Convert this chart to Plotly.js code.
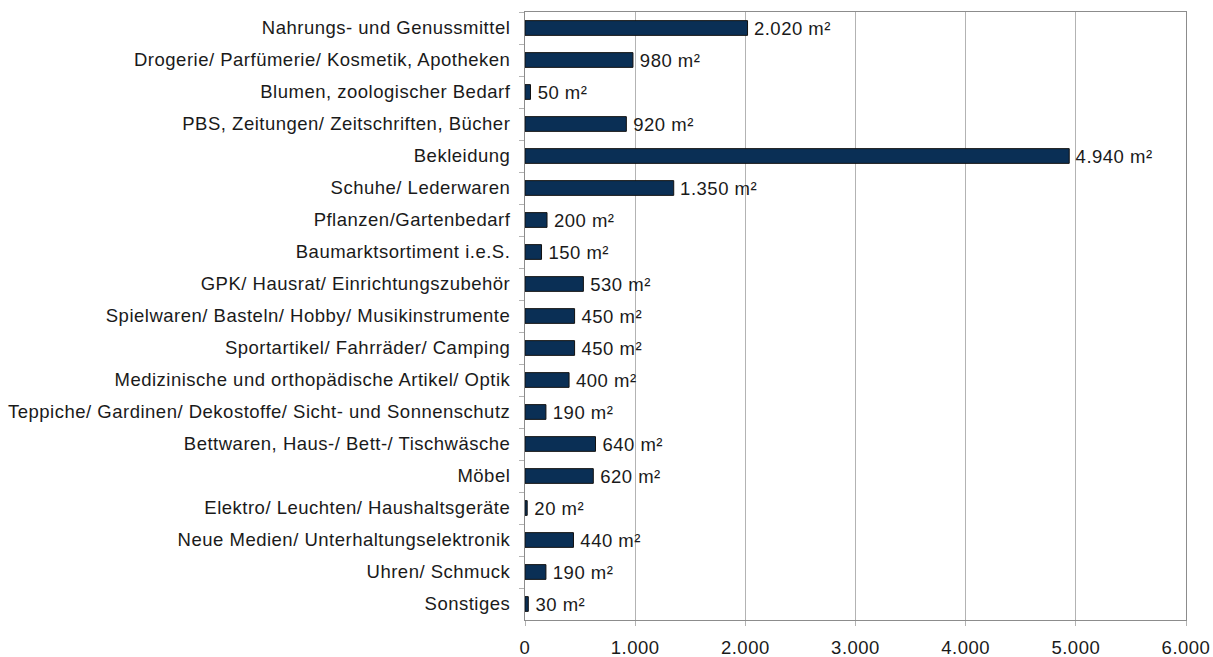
<!DOCTYPE html>
<html>
<head>
<meta charset="utf-8">
<script src="https://cdn.plot.ly/plotly-3.0.1.min.js"></script>
<style>html,body{margin:0;padding:0;background:#fff;}#chart{width:1213px;height:657px;}
#chart svg text{letter-spacing:0.5px;}</style>
</head>
<body>
<div id="chart"></div>
<script>
const categories = [
  "Nahrungs- und Genussmittel",
  "Drogerie/ Parfümerie/ Kosmetik, Apotheken",
  "Blumen, zoologischer Bedarf",
  "PBS, Zeitungen/ Zeitschriften, Bücher",
  "Bekleidung",
  "Schuhe/ Lederwaren",
  "Pflanzen/Gartenbedarf",
  "Baumarktsortiment i.e.S.",
  "GPK/ Hausrat/ Einrichtungszubehör",
  "Spielwaren/ Basteln/ Hobby/ Musikinstrumente",
  "Sportartikel/ Fahrräder/ Camping",
  "Medizinische und orthopädische Artikel/ Optik",
  "Teppiche/ Gardinen/ Dekostoffe/ Sicht- und Sonnenschutz",
  "Bettwaren, Haus-/ Bett-/ Tischwäsche",
  "Möbel",
  "Elektro/ Leuchten/ Haushaltsgeräte",
  "Neue Medien/ Unterhaltungselektronik",
  "Uhren/ Schmuck",
  "Sonstiges"
];
const values = [2020, 980, 50, 920, 4940, 1350, 200, 150, 530, 450, 450, 400, 190, 640, 620, 20, 440, 190, 30];
const xTicks = [0, 1000, 2000, 3000, 4000, 5000, 6000];

const font = {family: "Liberation Sans, Arial, sans-serif", size: 18.5, color: "#1a1a1a"};

Plotly.newPlot("chart", [{
  type: "bar",
  orientation: "h",
  y: categories,
  x: values,
  width: 0.46,
  marker: {color: "#0a2f55", line: {color: "#111", width: 1}},
  texttemplate: " %{x:,.0f} m²",
  textposition: "outside",
  constraintext: "none",
  cliponaxis: false,
  textfont: font,
  hoverinfo: "none"
}], {
  width: 1213, height: 657,
  margin: {l: 525, r: 27, t: 12, b: 37},
  separators: ",.",
  paper_bgcolor: "#fff",
  plot_bgcolor: "#fff",
  showlegend: false,
  font: font,
  xaxis: {
    range: [0, 6000],
    tickvals: xTicks,
    tickformat: ",.0f",
    showgrid: true, gridcolor: "#b3b3b3", gridwidth: 1,
    showline: true, linecolor: "#8c8c8c", linewidth: 1, mirror: true,
    ticks: "outside", ticklen: 5, tickcolor: "#b3b3b3",
    ticklabelstandoff: 6,
    zeroline: false,
    fixedrange: true
  },
  yaxis: {
    type: "category",
    autorange: "reversed",
    showline: true, linecolor: "#8c8c8c", linewidth: 1, mirror: true,
    ticks: "outside", ticklen: 5, tickcolor: "#b3b3b3",
    tickson: "boundaries",
    ticklabelstandoff: 10,
    showgrid: false,
    fixedrange: true
  }
}, {staticPlot: true});
</script>
</body>
</html>
